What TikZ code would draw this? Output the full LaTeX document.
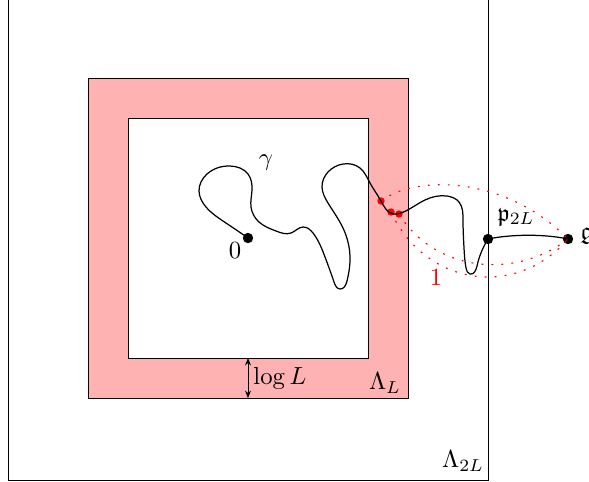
\documentclass[tikz,border=0pt]{standalone}
\usepackage{amsmath,amssymb}
\usetikzlibrary{arrows.meta,hobby}
\begin{document}
\begin{tikzpicture}[x=0.405pt,y=-0.405pt,
  bigdot/.style={circle,fill=black,inner sep=0pt,minimum size=4.2pt},
  reddot/.style={circle,fill=red,inner sep=0pt,minimum size=3pt},
  reddots/.style={red,line width=0.45pt,dash pattern=on 0.75pt off 3.3pt},
  lbl/.style={inner sep=0pt}]
\useasboundingbox (0,0) rectangle (589,481);
% boxes
\draw[line width=0.4pt] (8,-5) rectangle (488,480);
\draw[line width=0.4pt,fill=red!30] (88,78) rectangle (408,398);
\draw[line width=0.4pt,fill=white] (128,118) rectangle (368,358);
% points
\node[bigdot] (o) at (248,238) {};
\node[bigdot] (p) at (488,239) {};
\node[bigdot] (g) at (568,239) {};
\node[reddot] (r1) at (381,201) {};
\node[reddot] (r2) at (391,212) {};
\node[reddot] (r3) at (399,214) {};
% dotted arcs
\draw[reddots] (r1.center) .. controls (415,175) and (505,175) .. (g.center);
\draw[reddots] (r2.center) .. controls (425,285) and (515,300) .. (g.center);
\draw[reddots] (r3.center) .. controls (435,272) and (515,280) .. (g.center);
% path gamma
\draw[line width=0.5pt,use Hobby shortcut]
 (248,238) .. (226,223) .. (206,207) .. (199,191) .. (207,174) .. (230,166)
 .. (248,174) .. (252,190) .. (251,207) .. (259,222) .. (276,231) .. (291,233)
 .. (303,227) .. (313,233) .. (325,257) .. (334,282) .. (340,289) .. (347,281)
 .. (350,257) .. (343,228) .. (328,203) .. (322,187) .. (328,172) .. (343,164)
 .. (360,168) .. (370,183) .. (381,201)
 .. (393,214) .. (401,213) .. (425,200) .. (447,196) .. (459,202) .. (463,220)
 .. (464,248) .. (466,268) .. (470,274) .. (477,266) .. (488,239);
\draw[line width=0.5pt] (p.center) .. controls (512,234) and (545,234) .. (g.center);
% arrow
\draw[line width=0.4pt,{Stealth[length=3pt,width=2.4pt]}-{Stealth[length=3pt,width=2.4pt]}] (248,358) -- (248,398);
% labels
\node[lbl] (gam) at (266,163) {$\gamma$};
\node[lbl] (zero) at (235,251) {$0$};
\node[lbl] (one) at (436,278) {\textcolor{red}{$1$}};
\node[lbl] (plab) at (516,217) {$\mathfrak{p}_{2L}$};
\node[lbl,anchor=west] (glab) at (580,236) {$\mathfrak{g}$};
\node[lbl,anchor=west] (logl) at (253,378) {$\log L$};
\node[lbl] (lamL) at (385,383) {$\Lambda_L$};
\node[lbl] (lam2L) at (463,461) {$\Lambda_{2L}$};
\end{tikzpicture}
\end{document}
